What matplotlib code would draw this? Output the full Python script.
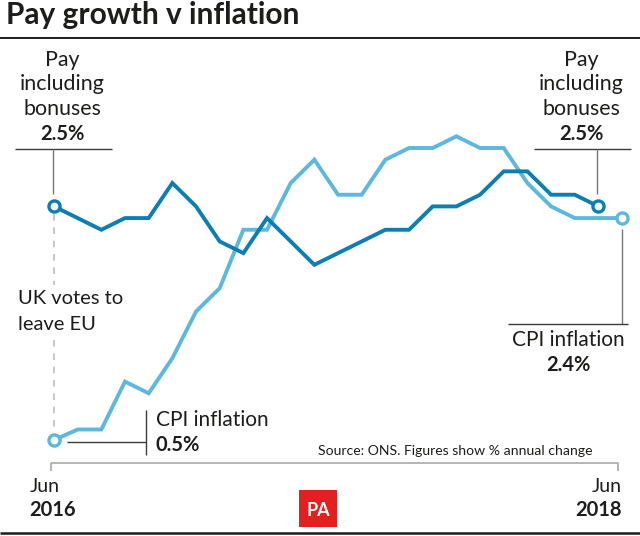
import numpy as np
import matplotlib
matplotlib.use('Agg')
import matplotlib.pyplot as plt
from matplotlib.patches import Rectangle

plt.rcParams['font.family'] = ['Lato', 'DejaVu Sans']

# monthly values, Jun 2016 onwards (% annual change)
cpi_values = [0.5, 0.59, 0.59, 1.0, 0.9, 1.2, 1.6, 1.8, 2.3, 2.3, 2.7, 2.9, 2.6,
              2.6, 2.9, 3.0, 3.0, 3.1, 3.0, 3.0, 2.7, 2.5, 2.4, 2.4, 2.4]
pay_values = [2.5, 2.4, 2.3, 2.4, 2.4, 2.7, 2.5, 2.2, 2.1, 2.4, 2.2, 2.0,
              2.1, 2.2, 2.3, 2.3, 2.5, 2.5, 2.6, 2.8, 2.8, 2.6, 2.6, 2.5]

PAY_COLOR = '#0b7fb3'
CPI_COLOR = '#5cb8dc'
TEXT_COLOR = '#1d1d1b'
LEADER_COLOR = '#3c3c3b'

fig = plt.figure(figsize=(6.4, 5.36), dpi=100)

# overlay in pixel coordinates for the furniture and labels
over = fig.add_axes([0, 0, 1, 1])
over.set_xlim(0, 640)
over.set_ylim(536, 0)
over.axis('off')

# data axes: month 0 sits at x=54px, 0.5% at y=440px
ax = fig.add_axes([0, 0, 1, 1], facecolor='none')
ax.set_xlim(-54 / 23.67, (640 - 54) / 23.67)
ax.set_ylim(0.5 - 96 / 116.8, 0.5 + 440 / 116.8)
ax.axis('off')

def seg(xs, ys, color=LEADER_COLOR, lw=1.0, **kw):
    over.plot(xs, ys, color=color, lw=lw, solid_capstyle='butt', **kw)

def label(x, y, s, size=15, weight='normal', ha='center', **kw):
    over.text(x, y, s, fontsize=size, fontweight=weight, ha=ha, va='center',
              color=TEXT_COLOR, **kw)

# brexit marker
over.plot([54, 54], [214, 285], color='#bdbdbd', lw=1.2, dashes=(4, 4))
over.plot([54, 54], [340, 432], color='#bdbdbd', lw=1.2, dashes=(4, 4))

ax.plot(np.arange(len(cpi_values)), cpi_values, color=CPI_COLOR, lw=2.8,
        solid_joinstyle='miter', zorder=3)
ax.plot(np.arange(len(pay_values)), pay_values, color=PAY_COLOR, lw=2.8,
        solid_joinstyle='miter', zorder=4)
for vals, col in ((cpi_values, CPI_COLOR), (pay_values, PAY_COLOR)):
    for i in (0, len(vals) - 1):
        ax.plot(i, vals[i], 'o', ms=8, mfc='white', mec=col, mew=2.4, zorder=5)

# title and rules
label(6, 15, 'Pay growth v inflation', size=21.5, weight='bold', ha='left')
seg([0, 640], [38, 38], color='#1d1d1b', lw=1.4)
seg([0, 640], [533, 533], color='#1d1d1b', lw=1.8)

# pay labels
for cx, x_line in ((62, 53), (581, 597)):
    for y, s in ((60, 'Pay'), (84, 'including'), (109, 'bonuses')):
        label(cx, y, s, size=15.4)
    label(cx, 134, '2.5%', weight='bold', size=14.5)
    seg([cx - 47, cx + 50], [149, 149])
    seg([x_line, x_line], [149, 194], color='#777777')

# cpi labels
seg([622, 622], [229, 324], color='#777777')
seg([508, 628], [324, 324])
label(568, 340, 'CPI inflation')
label(568, 365, '2.4%', weight='bold', size=14.5)

seg([67, 146], [442, 442])
seg([146, 146], [410, 455])
label(156, 420, 'CPI inflation', ha='left')
label(156, 445, '0.5%', weight='bold', ha='left', size=14.5)

label(18, 299, 'UK votes to', ha='left', size=14.5)
label(18, 324, 'leave EU', ha='left', size=14.5)

label(318, 451, 'Source: ONS. Figures show % annual change', size=10.1, ha='left')

# time axis
seg([51, 618, 618], [463, 463, 471], color='#a8a8a8', lw=1.2)
seg([51, 51], [463, 471], color='#a8a8a8', lw=1.2)
label(30, 487, 'Jun', ha='left', size=14)
label(29, 510, '2016', weight='bold', ha='left', size=14.5)
label(622, 487, 'Jun', ha='right', size=14)
label(622, 510, '2018', weight='bold', ha='right', size=14.5)

# PA logo
over.add_patch(Rectangle((299, 490), 38, 37, facecolor='#e1201f', edgecolor='none'))
over.text(318, 510, 'PA', color='white', fontsize=13, fontweight='bold', ha='center',
          va='center')

fig.savefig('out.png', dpi=100)
